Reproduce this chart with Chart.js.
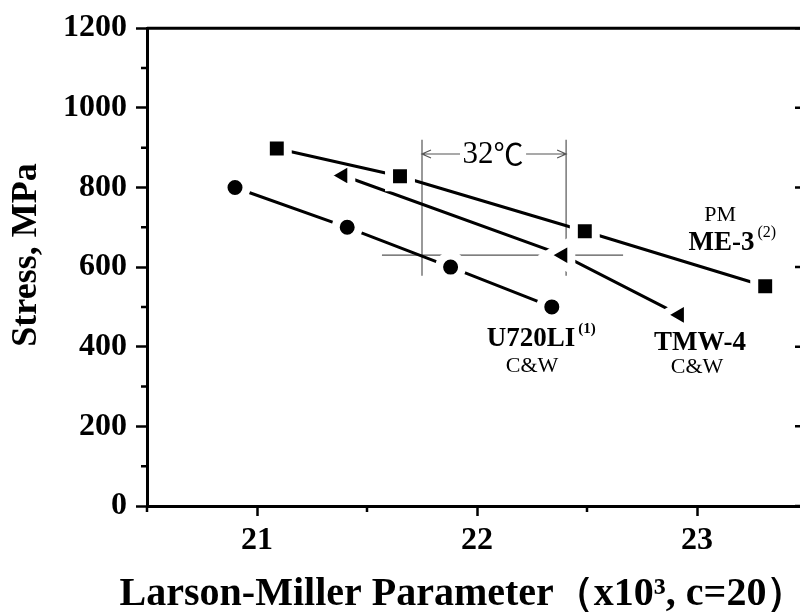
<!DOCTYPE html>
<html><head><meta charset="utf-8">
<script src="https://cdn.jsdelivr.net/npm/chart.js@4.4.0/dist/chart.umd.min.js"></script>
<style>
html,body{margin:0;padding:0;background:#fff;overflow:hidden;}
#wrap{width:800px;height:612px;position:relative;overflow:hidden;}
#c{position:absolute;left:0;top:0;}
</style></head><body>
<div id="wrap"><canvas id="c" width="832" height="612"></canvas></div>
<script>
// ---- data (Larson-Miller parameter x10^3, stress MPa) ----
const u720X = [20.9, 21.41, 21.88, 22.34];
const u720Y = [800, 700, 600, 500];
const tmwX  = [21.39, 22.39, 22.92];
const tmwY  = [830, 630, 480];
const me3X  = [21.09, 21.65, 22.49, 23.31];
const me3Y  = [898, 828, 690, 552];

const xMajorTicks = [21, 22, 23];
const xMinorTicks = [20.5, 21.5, 22.5, 23.5];
const yMajorTicks = [0, 200, 400, 600, 800, 1000, 1200];
const yMinorTicks = [100, 300, 500, 700, 900, 1100];

// guide lines showing the 32 degC shift at 630 MPa
const guideX = [21.75, 22.405];
const guideYRange = [578, 920];
const stressLevel = 630;
const stressLineX = [21.568, 22.664];
const arrowY = 884;
const arrowGap = [21.923, 22.223];

const FONT = '"Liberation Serif", "Times New Roman", serif';

function pts(xs, ys){ return xs.map((x,i)=>({x:x, y:ys[i]})); }

const labels = [
  {text:'U720LI', x:22.245, y:419, bold:true, size:27, sup:'(1)', supSize:15, supBold:true},
  {text:'C&W', x:22.25, y:352, bold:false, size:22},
  {text:'TMW-4', x:23.014, y:409, bold:true, size:27},
  {text:'C&W', x:23.0, y:349, bold:false, size:22},
  {text:'PM', x:23.105, y:731, bold:false, size:22},
  {text:'ME-3', x:23.111, y:660, bold:true, size:27, sup:'(2)', supSize:16, supBold:false}
];

const lineStyle = {borderColor:'#000', borderWidth:3, showLine:true,
  pointBackgroundColor:'#000', pointBorderColor:'#fff', pointBorderWidth:8, pointHoverRadius:0};

const datasets = [
  Object.assign({label:'ME-3', data:pts(me3X, me3Y), pointStyle:'rect', pointRadius:15.5, order:1}, lineStyle),
  Object.assign({label:'TMW-4', data:pts(tmwX, tmwY), pointStyle:'triangle', pointRotation:-90, pointRadius:17, order:2}, lineStyle),
  Object.assign({label:'U720LI', data:pts(u720X, u720Y), pointStyle:'circle', pointRadius:11.5, order:3}, lineStyle),
  {label:'g1', data:[{x:guideX[0],y:guideYRange[0]},{x:guideX[0],y:guideYRange[1]}], showLine:true, borderColor:'#555', borderWidth:1.2, pointRadius:0, order:10},
  {label:'g2', data:[{x:guideX[1],y:guideYRange[0]},{x:guideX[1],y:guideYRange[1]}], showLine:true, borderColor:'#555', borderWidth:1.2, pointRadius:0, order:10},
  {label:'g3', data:[{x:stressLineX[0],y:stressLevel},{x:stressLineX[1],y:stressLevel}], showLine:true, borderColor:'#555', borderWidth:1.2, pointRadius:0, order:10}
];

const decor = {
  id:'decor',
  beforeDatasetsDraw(chart){
    const ctx = chart.ctx, xs = chart.scales.x, ys = chart.scales.y;
    ctx.save();
    ctx.strokeStyle = '#555'; ctx.lineWidth = 1.2;
    const ay = ys.getPixelForValue(arrowY);
    const x0 = xs.getPixelForValue(guideX[0]), x1 = xs.getPixelForValue(guideX[1]);
    const g0 = xs.getPixelForValue(arrowGap[0]), g1 = xs.getPixelForValue(arrowGap[1]);
    ctx.beginPath();
    ctx.moveTo(x0, ay); ctx.lineTo(g0, ay);
    ctx.moveTo(g1, ay); ctx.lineTo(x1, ay);
    ctx.moveTo(x0+9, ay-4); ctx.lineTo(x0, ay); ctx.lineTo(x0+9, ay+4);
    ctx.moveTo(x1-9, ay-4); ctx.lineTo(x1, ay); ctx.lineTo(x1-9, ay+4);
    ctx.stroke();
    ctx.fillStyle = '#000';
    ctx.textBaseline = 'middle';
    ctx.font = '31px ' + FONT;
    const w1 = ctx.measureText('32').width;
    ctx.font = '30px "Noto Sans CJK JP", ' + FONT;
    const w2 = ctx.measureText('℃').width;
    const sx = (g0+g1)/2 - (w1+w2)/2;
    ctx.textAlign = 'left';
    ctx.font = '31px ' + FONT;
    ctx.fillText('32', sx, ay+1);
    ctx.font = '30px "Noto Sans CJK JP", ' + FONT;
    ctx.fillText('℃', sx + w1, ay);
    ctx.restore();
  },
  afterDraw(chart){
    const ctx = chart.ctx, xs = chart.scales.x, ys = chart.scales.y, a = chart.chartArea;
    ctx.save();
    ctx.strokeStyle = '#000';
    ctx.lineWidth = 3;
    ctx.beginPath();
    ctx.moveTo(a.left, a.top); ctx.lineTo(a.right, a.top); ctx.lineTo(a.right, a.bottom);
    ctx.stroke();
    ctx.lineWidth = 2.5;
    ctx.beginPath();
    yMinorTicks.forEach(v=>{ const y = ys.getPixelForValue(v); ctx.moveTo(a.left, y); ctx.lineTo(a.left-6, y); });
    xMinorTicks.forEach(v=>{ const x = xs.getPixelForValue(v); ctx.moveTo(x, a.bottom); ctx.lineTo(x, a.bottom+6); });
    yMajorTicks.forEach(v=>{ const y = ys.getPixelForValue(v); ctx.moveTo(a.right, y); ctx.lineTo(a.right-12, y); });
    ctx.stroke();
    ctx.fillStyle = '#000';
    ctx.textBaseline = 'middle';
    labels.forEach(l=>{
      const px = xs.getPixelForValue(l.x), py = ys.getPixelForValue(l.y);
      ctx.font = (l.bold?'bold ':'') + l.size + 'px ' + FONT;
      ctx.textAlign = 'center';
      ctx.fillText(l.text, px, py);
      if (l.sup){
        const w = ctx.measureText(l.text).width;
        ctx.font = (l.supBold?'bold ':'') + l.supSize + 'px ' + FONT;
        ctx.textAlign = 'left';
        ctx.fillText(l.sup, px + w/2 + 3, py - l.size*0.38);
      }
    });
    // axis titles
    ctx.textAlign = 'center';
    ctx.font = 'bold 36px ' + FONT;
    ctx.save();
    ctx.translate(27, 255);
    ctx.rotate(-Math.PI/2);
    ctx.fillText('Stress, MPa', 0, 0);
    ctx.restore();
    ctx.font = 'bold 40px ' + FONT;
    ctx.fillText('Larson-Miller Parameter（x10³, c=20）', 463, 595);
    ctx.restore();
  }
};

new Chart(document.getElementById('c'), {
  type:'scatter',
  data:{datasets:datasets},
  options:{
    responsive:false, animation:false, devicePixelRatio:1,
    layout:{padding:{left:0, right:0, top:25, bottom:0}},
    plugins:{legend:{display:false}, tooltip:{enabled:false}},
    elements:{line:{tension:0}},
    scales:{
      x:{type:'linear', min:20.5, max:23.5,
        afterBuildTicks(s){ s.ticks = xMajorTicks.map(v=>({value:v})); },
        afterFit(s){ s.height = 106; },
        ticks:{font:{family:FONT, size:32, weight:'bold'}, color:'#000', padding:6, maxRotation:0,
          callback:(v)=>String(v)},
        grid:{display:true, drawOnChartArea:false, drawTicks:true, tickLength:10, tickWidth:2.5, tickColor:'#000'},
        border:{display:true, color:'#000', width:3}
      },
      y:{type:'linear', min:0, max:1200,
        afterBuildTicks(s){ s.ticks = yMajorTicks.map(v=>({value:v})); },
        afterFit(s){ s.width = 147; },
        ticks:{font:{family:FONT, size:32, weight:'bold'}, color:'#000', padding:9,
          callback:(v)=>String(v)},
        grid:{display:true, drawOnChartArea:false, drawTicks:true, tickLength:11, tickWidth:2.5, tickColor:'#000'},
        border:{display:true, color:'#000', width:3}
      }
    }
  },
  plugins:[decor]
});
</script>
</body></html>
